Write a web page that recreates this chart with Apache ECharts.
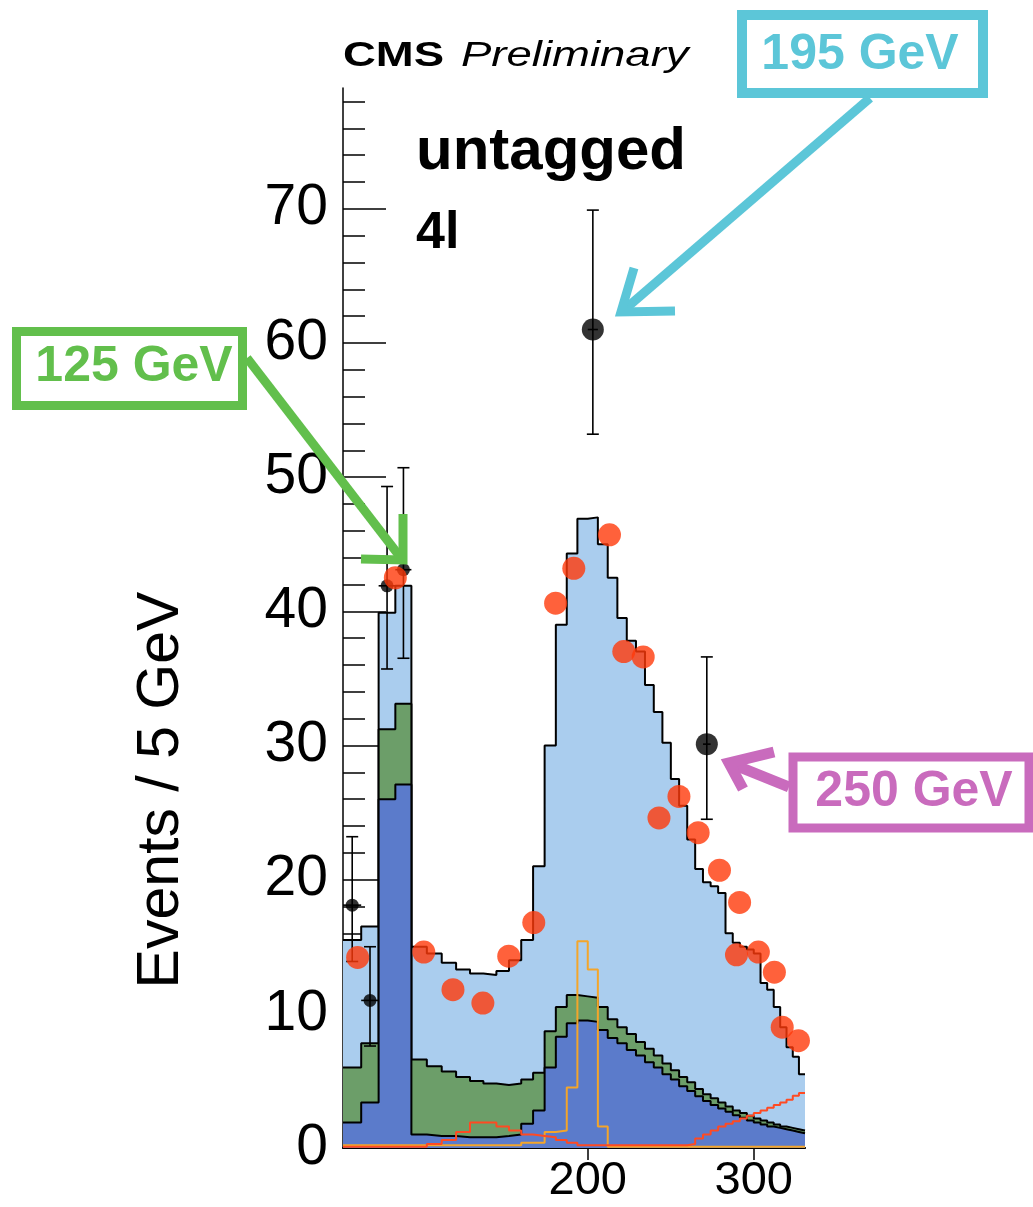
<!DOCTYPE html>
<html>
<head>
<meta charset="utf-8">
<script src="https://cdn.jsdelivr.net/npm/echarts@6/dist/echarts.min.js"></script>
<style>
html,body{margin:0;padding:0;background:#fff;}
#c{width:1033px;height:1207px;}
</style>
</head>
<body>
<div id="c"></div>
<script>
// ---- bin edges (GeV), 5 GeV bins ----
const massEdges = [110,115,120,125,130,135,140,145,150,155,160,165,170,175,180,185,190,195,200,205,210,215,220,225,230,235,240,245,250,255,260,265,270,275,280,285,290,295,300,305,310,315,320,325,330,335,340];

// ---- stacked histogram components (events per bin) ----
const darkBlue = [1.9,3.4,26.0,27.1,1.0,0.9,0.9,0.8,0.8,0.8,0.9,1.0,1.8,2.8,6.0,8.3,9.3,9.5,9.4,8.8,8.2,7.8,7.3,6.9,6.4,6.0,5.5,5.1,4.6,4.25,3.85,3.5,3.2,2.95,2.7,2.45,2.25,2.05,1.9,1.75,1.6,1.5,1.4,1.3,1.2,1.1];
const greenBand = [4.1,4.4,5.2,6.0,5.6,5.2,4.8,4.5,4.2,4.0,3.8,3.8,3.3,2.8,2.7,2.2,2.1,1.8,1.8,1.7,1.4,1.2,1.2,1.0,1.0,0.9,0.8,0.7,0.7,0.65,0.55,0.5,0.5,0.45,0.4,0.35,0.35,0.35,0.3,0.3,0.3,0.25,0.2,0.2,0.2,0.2];
const lightBlue = [9.5,8.7,8.7,8.8,8.4,8.4,8.1,8.0,8.0,8.1,8.5,9.2,10.4,15.4,21.3,28.5,32.9,35.6,35.8,34.5,32.9,30.5,29.3,29.1,27.1,25.6,23.9,21.7,20.2,18.1,16.4,15.8,15.8,15.6,12.9,12.5,12.4,12.4,12.3,10.25,9.9,8.75,7.4,6.0,5.4,4.2];

// ---- unstacked outline histograms ----
const orangeLine = [0.2,0.2,0.2,0.2,0.2,0.2,0.2,0.2,0.2,0.2,0.2,0.2,0.4,0.4,1.2,1.3,4.5,15.4,13.3,1.6,0.1,0.1,0.1,0.1,0.1,0.1,0.1,0.1,0.1,0.1,0.1,0.1,0.1,0.1,0.1,0.1,0.1,0.1,0.1,0.1,0.1,0.1,0.1,0.1,0.1,0.1];
const redLine = [0.1,0.1,0.1,0.1,0.1,0.3,0.6,1.2,1.9,1.9,1.6,1.3,1.0,0.9,0.8,0.6,0.4,0.2,0.2,0.2,0.2,0.2,0.2,0.2,0.2,0.2,0.2,0.2,0.2,0.3,0.7,1.0,1.3,1.6,1.8,2.0,2.2,2.4,2.6,2.8,3.0,3.2,3.4,3.6,3.9,4.1];

// ---- observed data points (black) ----
const obsMass   = [112.5,117.5,122.5,127.5,202.5,267.5];
const obsEvents = [18.1,11.0,41.9,43.1,61.0,30.1];
const obsLow    = [13.9,7.6,35.7,36.5,53.2,24.5];
const obsHigh   = [23.2,15.0,49.3,50.7,69.9,36.6];

// ---- overlaid orange-red dots ----
const dotMass   = [114.0,125.0,134.0,143.9,154.8,164.9,175.3,184.9,193.3,210.9,218.4,229.0,238.0,249.9,261.9,275.9,289.8,287.6,303.4,315.5,321.6,334.6];
const dotEvents = [14.2,42.5,14.6,11.8,10.8,14.3,16.8,40.6,43.2,45.7,37.0,36.6,24.6,26.2,23.5,20.7,18.3,14.4,14.6,13.1,9.0,8.0];

// ---- ticks ----
const xTickLabels = [200,300];
const yTickLabels = [0,10,20,30,40,50,60,70];
const yMinorTicks = [2,4,6,8,12,14,16,18,22,24,26,28,32,34,36,38,42,44,46,48,52,54,56,58,62,64,66,68,72,74,76,78];

const FONT = 'Liberation Sans, Arial, Helvetica, sans-serif';

// cumulative stack levels (stack drawn back to front)
const greenTop = darkBlue.map((v, i) => v + greenBand[i]);
const totalTop = greenTop.map((v, i) => v + lightBlue[i]);

function stepData(vals) {
  return massEdges.map((e, i) => [e, vals[Math.min(i, vals.length - 1)]]);
}

const chart = echarts.init(document.getElementById('c'));

const annGreen = '#62bf4c', annCyan = '#5cc6d8', annMag = '#c96bbd';

function stepArea(name, vals, fill, z) {
  return {
    name: name, type: 'line', step: 'end', data: stepData(vals),
    xAxisIndex: 0, yAxisIndex: 0, symbol: 'none', showSymbol: false, z: z,
    lineStyle: { color: '#000', width: 2 },
    areaStyle: { color: fill, opacity: 1, origin: 'start' }
  };
}

const option = {
  animation: false,
  backgroundColor: '#ffffff',
  grid: { left: 343, right: 228, top: 88, bottom: 59, containLabel: false },
  xAxis: [
    {
      type: 'log', logBase: 10, min: 110, max: 340, position: 'bottom',
      axisLine: { show: true, lineStyle: { color: '#000', width: 2 } },
      axisTick: { show: true, inside: true, length: 9, customValues: xTickLabels, lineStyle: { color: '#000', width: 1.5 } },
      axisLabel: { show: true, customValues: xTickLabels, margin: 10, fontSize: 47, fontFamily: FONT, color: '#000' },
      splitLine: { show: false }, minorTick: { show: false }, minorSplitLine: { show: false }
    },
    {
      type: 'log', logBase: 10, min: 110, max: 340, position: 'top',
      axisLine: { show: true, lineStyle: { color: '#000', width: 1.5 } },
      axisTick: { show: true, inside: true, length: 12, customValues: xTickLabels, lineStyle: { color: '#000', width: 1.5 } },
      axisLabel: { show: false }, splitLine: { show: false }
    }
  ],
  yAxis: [
    {
      type: 'value', min: 0, max: 79, interval: 10, position: 'left',
      axisLine: { show: true, lineStyle: { color: '#000', width: 1.5 } },
      axisTick: { show: true, inside: true, length: 43, customValues: yTickLabels, lineStyle: { color: '#000', width: 1.5 } },
      axisLabel: { show: true, customValues: yTickLabels, margin: 15, fontSize: 57, fontFamily: FONT, color: '#000' },
      splitLine: { show: false }
    },
    {
      type: 'value', min: 0, max: 79, position: 'left',
      axisLine: { show: false },
      axisTick: { show: true, inside: true, length: 22, customValues: yMinorTicks, lineStyle: { color: '#000', width: 1.5 } },
      axisLabel: { show: false }, splitLine: { show: false }
    }
  ],
  series: [
    stepArea('light', totalTop, '#aacdee', 2),
    stepArea('green', greenTop, '#6c9e69', 3),
    stepArea('dark', darkBlue, '#5b7bcb', 4),
    {
      name: 'orange', type: 'line', step: 'end', data: stepData(orangeLine),
      xAxisIndex: 0, yAxisIndex: 0, symbol: 'none', z: 5,
      lineStyle: { color: '#f4a52a', width: 2 }
    },
    {
      name: 'red', type: 'line', step: 'end', data: stepData(redLine),
      xAxisIndex: 0, yAxisIndex: 0, symbol: 'none', z: 5,
      lineStyle: { color: '#ff4a22', width: 2 }
    },
    {
      name: 'errors', type: 'custom', xAxisIndex: 0, yAxisIndex: 0, z: 6,
      data: obsMass.map((m, i) => [m, obsLow[i], obsHigh[i], obsEvents[i]]),
      encode: { x: 0, y: [1, 2, 3] },
      renderItem: function (params, api) {
        const m = api.value(0);
        const lo = api.coord([m, api.value(1)]);
        const hi = api.coord([m, api.value(2)]);
        const left = api.coord([m - 2.5, api.value(3)]);
        const right = api.coord([m + 2.5, api.value(3)]);
        const cap = 6;
        const st = { stroke: '#000', lineWidth: 1.6 };
        return {
          type: 'group',
          children: [
            { type: 'line', shape: { x1: lo[0], y1: lo[1], x2: hi[0], y2: hi[1] }, style: st },
            { type: 'line', shape: { x1: hi[0] - cap, y1: hi[1], x2: hi[0] + cap, y2: hi[1] }, style: st },
            { type: 'line', shape: { x1: lo[0] - cap, y1: lo[1], x2: lo[0] + cap, y2: lo[1] }, style: st },
            { type: 'line', shape: { x1: left[0], y1: left[1], x2: right[0], y2: right[1] }, style: st }
          ]
        };
      }
    },
    {
      name: 'data', type: 'scatter', xAxisIndex: 0, yAxisIndex: 0, z: 7,
      data: obsMass.map((m, i) => [m, obsEvents[i]]),
      symbol: 'circle',
      symbolSize: function (v, p) { return p.dataIndex >= 4 ? 22 : 13; },
      itemStyle: { color: '#000' }
    },
    {
      name: 'overlay', type: 'scatter', xAxisIndex: 0, yAxisIndex: 0, z: 8,
      data: dotMass.map((m, i) => [m, dotEvents[i]]),
      symbol: 'circle', symbolSize: 23,
      itemStyle: { color: '#ff3a0a' }
    }
  ],
  graphic: [
    // CMS Preliminary
    { type: 'text', x: 343, y: 56, scaleX: 1.3, z: 100,
      style: { text: 'CMS', font: 'bold 35px ' + FONT, fill: '#000', align: 'left', verticalAlign: 'middle', textAlign: 'left', textVerticalAlign: 'middle' } },
    { type: 'text', x: 461, y: 56, scaleX: 1.3, z: 100,
      style: { text: 'Preliminary', font: 'italic 35px ' + FONT, fill: '#000', align: 'left', verticalAlign: 'middle', textAlign: 'left', textVerticalAlign: 'middle' } },
    // untagged / 4l
    { type: 'text', x: 416, y: 152, z: 100,
      style: { text: 'untagged', font: 'bold 60px ' + FONT, fill: '#000', align: 'left', verticalAlign: 'middle', textAlign: 'left', textVerticalAlign: 'middle' } },
    { type: 'text', x: 416, y: 234, z: 100,
      style: { text: '4l', font: 'bold 52px ' + FONT, fill: '#000', align: 'left', verticalAlign: 'middle', textAlign: 'left', textVerticalAlign: 'middle' } },
    // y-axis title
    { type: 'text', x: 162, y: 790, rotation: Math.PI / 2, z: 100,
      style: { text: 'Events / 5 GeV', font: '59px ' + FONT, fill: '#000', align: 'center', verticalAlign: 'middle', textAlign: 'center', textVerticalAlign: 'middle' } },

    // 125 GeV annotation
    { type: 'rect', z: 100, shape: { x: 16.5, y: 331.5, width: 226, height: 74 },
      style: { fill: '#fff', stroke: annGreen, lineWidth: 9 } },
    { type: 'text', x: 134, y: 367, z: 101,
      style: { text: '125 GeV', font: 'bold 50px ' + FONT, fill: annGreen, align: 'center', verticalAlign: 'middle', textAlign: 'center', textVerticalAlign: 'middle' } },
    { type: 'polyline', z: 100, shape: { points: [[247, 358], [401, 558]] },
      style: { stroke: annGreen, lineWidth: 9, fill: null, lineCap: 'butt' } },
    { type: 'polyline', z: 100, shape: { points: [[403, 514], [403, 560], [361, 559]] },
      style: { stroke: annGreen, lineWidth: 9, fill: null, lineJoin: 'miter' } },

    // 195 GeV annotation
    { type: 'rect', z: 100, shape: { x: 742, y: 15, width: 241, height: 78 },
      style: { fill: '#fff', stroke: annCyan, lineWidth: 10 } },
    { type: 'text', x: 860, y: 55, z: 101,
      style: { text: '195 GeV', font: 'bold 50px ' + FONT, fill: annCyan, align: 'center', verticalAlign: 'middle', textAlign: 'center', textVerticalAlign: 'middle' } },
    { type: 'polyline', z: 100, shape: { points: [[870, 98], [624, 310]] },
      style: { stroke: annCyan, lineWidth: 9, fill: null } },
    { type: 'polyline', z: 100, shape: { points: [[634, 268], [621, 312], [675, 311]] },
      style: { stroke: annCyan, lineWidth: 9, fill: null, lineJoin: 'miter' } },

    // 250 GeV annotation
    { type: 'rect', z: 100, shape: { x: 793, y: 757, width: 236, height: 71 },
      style: { fill: '#fff', stroke: annMag, lineWidth: 9 } },
    { type: 'text', x: 914, y: 792, z: 101,
      style: { text: '250 GeV', font: 'bold 50px ' + FONT, fill: annMag, align: 'center', verticalAlign: 'middle', textAlign: 'center', textVerticalAlign: 'middle' } },
    { type: 'polyline', z: 100, shape: { points: [[789, 787], [732, 764]] },
      style: { stroke: annMag, lineWidth: 11, fill: null } },
    { type: 'polyline', z: 100, shape: { points: [[774, 752], [729, 763], [743, 789]] },
      style: { stroke: annMag, lineWidth: 11, fill: null, lineJoin: 'miter' } }
  ]
};

chart.setOption(option);
</script>
</body>
</html>
